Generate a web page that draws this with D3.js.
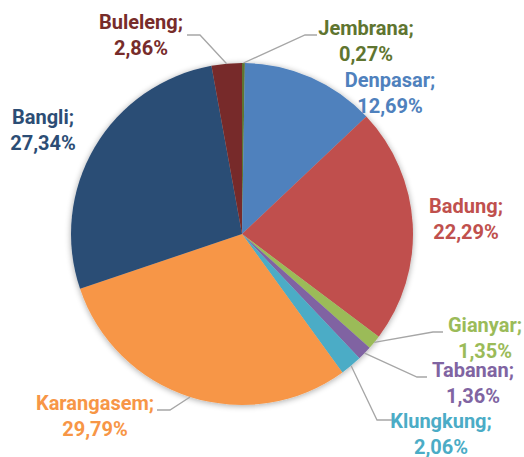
<!DOCTYPE html>
<html>
<head>
<meta charset="utf-8">
<script src="https://cdn.jsdelivr.net/npm/d3@7"></script>
<style>
  html, body { margin: 0; padding: 0; background: #fff; }
  svg { display: block; }
  text { font-family: Roboto, "Liberation Sans", sans-serif; font-weight: bold; }
</style>
</head>
<body>
<svg id="chart" width="524" height="457"></svg>
<script>
// ---- data ----
const categories = ["Jembrana", "Denpasar", "Badung", "Gianyar", "Tabanan", "Klungkung", "Karangasem", "Bangli", "Buleleng"];
const values = [0.27, 12.69, 22.29, 1.35, 1.36, 2.06, 29.79, 27.34, 2.86];
const colors = ["#5f7530", "#4f81bd", "#c0504d", "#9bbb59", "#8064a2", "#4bacc6", "#f79646", "#2c4d75", "#772c2a"];

// ---- layout (label anchors and leader elbows) ----
const labelLayout = [
  { x: 366, y: 35, elbow: [[317, 35], [305, 35]] },
  { x: 390, y: 87, elbow: null },
  { x: 466, y: 213, elbow: null },
  { x: 485, y: 332, elbow: [[443, 332], [433, 332]] },
  { x: 473, y: 377, elbow: [[427, 377], [417, 377]] },
  { x: 441, y: 428, elbow: [[392, 420], [377, 420]] },
  { x: 95, y: 410, elbow: [[157, 410], [170, 410]] },
  { x: 43, y: 124, elbow: null },
  { x: 141, y: 29, elbow: [[187, 35], [200, 35]] }
];

const cx = 242, cy = 234, R = 171;
const svg = d3.select("#chart");

const defs = svg.append("defs");
const f = defs.append("filter").attr("id", "shadow").attr("x", "-20%").attr("y", "-20%").attr("width", "140%").attr("height", "140%");
f.append("feGaussianBlur").attr("in", "SourceAlpha").attr("stdDeviation", 3).attr("result", "b");
f.append("feOffset").attr("in", "b").attr("dx", 0).attr("dy", 1).attr("result", "o");
f.append("feComponentTransfer").attr("in", "o").attr("result", "o2")
  .append("feFuncA").attr("type", "linear").attr("slope", 0.35);
const m = f.append("feMerge");
m.append("feMergeNode").attr("in", "o2");
m.append("feMergeNode").attr("in", "SourceGraphic");

const data = categories.map((c, i) => ({ name: c, value: values[i], color: colors[i], layout: labelLayout[i] }));

const pie = d3.pie().value(d => d.value).sort(null).startAngle(0).endAngle(2 * Math.PI);
const arcs = pie(data);
const arc = d3.arc().innerRadius(0).outerRadius(R);
const edge = d3.arc().innerRadius(R).outerRadius(R);

const g = svg.append("g").attr("transform", `translate(${cx},${cy})`);
g.append("g").attr("filter", "url(#shadow)")
  .selectAll("path").data(arcs).join("path")
  .attr("d", arc)
  .attr("fill", d => d.data.color);

// leader lines
const line = d3.line();
svg.append("g").selectAll("path")
  .data(arcs.filter(d => d.data.layout.elbow))
  .join("path")
  .attr("d", d => {
    const p = edge.centroid(d);
    const pts = d.data.layout.elbow.concat([[p[0] + cx, p[1] + cy]]);
    return line(pts);
  })
  .attr("fill", "none")
  .attr("stroke", "#a6a6a6")
  .attr("stroke-width", 1.3);

// labels
const fmt = v => v.toFixed(2).replace(".", ",") + "%";
const labels = svg.append("g").selectAll("text").data(data).join("text")
  .attr("x", d => d.layout.x)
  .attr("y", d => d.layout.y)
  .attr("text-anchor", "middle")
  .attr("fill", d => d.color)
  .style("font-size", "20px");
labels.append("tspan").attr("x", d => d.layout.x).text(d => d.name + ";");
labels.append("tspan").attr("x", d => d.layout.x).attr("dy", 25.5).text(d => fmt(d.value));
</script>
</body>
</html>
